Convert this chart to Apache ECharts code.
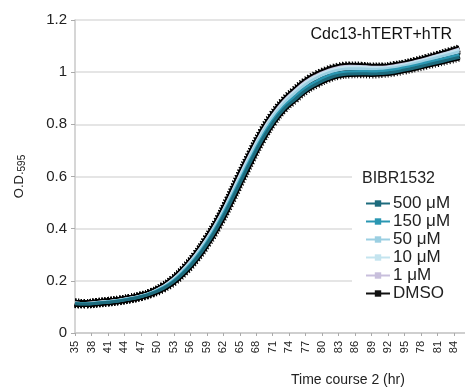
<!DOCTYPE html>
<html>
<head>
<meta charset="utf-8">
<script src="https://cdn.jsdelivr.net/npm/echarts@6/dist/echarts.min.js"></script>
<style>
  html, body { margin: 0; padding: 0; background: #fff; }
  #chart { width: 465px; height: 389px; }
</style>
</head>
<body>
<div id="chart"></div>
<script>
// Tick labels printed under the time axis (one every 3 hourly readings)
const tickLabels = ['35','38','41','44','47','50','53','56','59','62','65','68',
                    '71','74','77','80','83','86','89','92','95','78','81','84'];
// Hourly readings: 72 slots on the category axis
const slotCount = 72;
// Sampled slot indices (every 2 hours)
const sampleSlots = [0,2,4,6,8,10,12,14,16,18,20,22,24,26,28,30,32,34,
                     36,38,40,42,44,46,48,50,52,54,56,58,60,62,64,66,68,70];

// O.D.595 growth curves, one per BIBR1532 dose
const od500uM = [0.112,0.111,0.114,0.118,0.123,0.130,0.139,0.152,0.170,0.197,0.235,0.282,
                 0.340,0.408,0.487,0.573,0.658,0.738,0.805,0.858,0.895,0.930,0.955,0.975,
                 0.988,0.993,0.994,0.993,0.995,1.000,1.008,1.017,1.027,1.037,1.047,1.057];
const od150uM = [0.113,0.112,0.115,0.119,0.124,0.131,0.140,0.154,0.173,0.201,0.240,0.288,
                 0.347,0.416,0.496,0.582,0.667,0.747,0.814,0.866,0.905,0.940,0.965,0.985,
                 0.997,1.002,1.003,1.002,1.004,1.009,1.017,1.026,1.036,1.046,1.056,1.066];
const od50uM  = [0.114,0.113,0.116,0.120,0.125,0.132,0.141,0.155,0.176,0.205,0.246,0.296,
                 0.356,0.426,0.507,0.594,0.680,0.760,0.826,0.878,0.918,0.953,0.978,0.996,
                 1.008,1.013,1.013,1.011,1.012,1.017,1.024,1.034,1.045,1.056,1.067,1.078];
const od10uM  = [0.115,0.113,0.117,0.121,0.126,0.133,0.142,0.156,0.177,0.207,0.248,0.298,
                 0.359,0.429,0.511,0.600,0.686,0.766,0.832,0.885,0.925,0.960,0.985,1.003,
                 1.015,1.020,1.020,1.017,1.017,1.022,1.029,1.039,1.050,1.062,1.074,1.086];
const od1uM   = [0.115,0.113,0.117,0.121,0.126,0.133,0.142,0.156,0.178,0.208,0.250,0.300,
                 0.361,0.431,0.513,0.603,0.689,0.769,0.835,0.888,0.928,0.963,0.988,1.006,
                 1.018,1.023,1.022,1.019,1.019,1.024,1.031,1.041,1.052,1.064,1.076,1.089];
const odDMSO  = [0.115,0.113,0.117,0.121,0.126,0.133,0.142,0.156,0.178,0.208,0.250,0.300,
                 0.362,0.432,0.515,0.605,0.690,0.770,0.837,0.890,0.930,0.965,0.990,1.008,
                 1.020,1.024,1.023,1.020,1.020,1.025,1.032,1.042,1.053,1.065,1.077,1.090];

const doses = [
  { name: '500 μM', values: od500uM, color: '#1d6b7d' },
  { name: '150 μM', values: od150uM, color: '#2a97b2' },
  { name: '50 μM',  values: od50uM,  color: '#9bcfe2' },
  { name: '10 μM',  values: od10uM,  color: '#c4e4ef' },
  { name: '1 μM',   values: od1uM,   color: '#c8bfdc' },
  { name: 'DMSO',   values: odDMSO,  color: '#111111' }
];

const slots = Array.from({ length: slotCount }, (_, i) => String(i));
const pairs = vals => vals.map((v, k) => [sampleSlots[k], v]);

const FONT = '"Liberation Sans", Arial, sans-serif';

// Black error-bar halo behind every curve: a solid core plus a hatched fringe
const haloSeries = [];
doses.forEach(d => {
  haloSeries.push({
    type: 'line', data: pairs(d.values), smooth: true, symbol: 'none', silent: true, z: 1,
    lineStyle: { color: '#000', width: 6 }
  });
  haloSeries.push({
    type: 'line', data: pairs(d.values), smooth: true, symbol: 'none', silent: true, z: 1,
    lineStyle: { color: '#000', width: 9, type: [1, 2] }
  });
});

const curveSeries = doses.map((d, k) => ({
  name: d.name,
  type: 'line',
  data: pairs(d.values),
  smooth: true,
  symbol: 'rect',
  symbolSize: 5,
  showSymbol: false,
  z: 2 + (doses.length - k),
  color: d.color,
  lineStyle: { color: d.color, width: d.name === 'DMSO' ? 2.5 : 3 }
}));

const chart = echarts.init(document.getElementById('chart'));
chart.setOption({
  animation: false,
  backgroundColor: '#fff',
  textStyle: { fontFamily: FONT },
  title: {
    text: 'Cdc13-hTERT+hTR',
    right: 8, top: 22,
    textStyle: { fontFamily: FONT, fontSize: 16, fontWeight: 'normal', color: '#111' }
  },
  graphic: [
    {
      // white panel behind the legend block, hiding the gridlines there
      type: 'rect', left: 352, top: 164, z: 5,
      shape: { width: 113, height: 142 },
      style: { fill: '#fff' }
    },
    {
      type: 'text', left: 362, top: 171, z: 6,
      style: { text: 'BIBR1532', font: '16px ' + FONT, fill: '#222' }
    },
    {
      type: 'text', left: 291, top: 373,
      style: { text: 'Time course 2 (hr)', font: '14px ' + FONT, fill: '#222', textAlign: 'center' }
    }
  ],
  legend: {
    orient: 'vertical',
    left: 360, top: 190, z: 10,
    itemWidth: 24, itemHeight: 8, itemGap: 1,
    data: doses.map(d => d.name),
    textStyle: { fontFamily: FONT, fontSize: 17, color: '#222', padding: [0, 0, 0, -2] }
  },
  grid: { left: 75, right: -4, top: 20, bottom: 56, containLabel: false },
  xAxis: {
    type: 'category',
    data: slots,
    boundaryGap: false,
    axisLine: { lineStyle: { color: '#c8c8c8', width: 1.5 } },
    axisTick: { interval: 2, length: 3, lineStyle: { color: '#aaa' } },
    axisLabel: {
      interval: 2,
      rotate: 90,
      fontSize: 11,
      color: '#222',
      margin: 8,
      formatter: (v, idx) => tickLabels[idx / 3] || ''
    },
    splitLine: { show: false }
  },
  yAxis: {
    type: 'value',
    min: 0, max: 1.2, interval: 0.2,
    name: '{a|O.D.}{sub|595}',
    nameLocation: 'middle',
    nameGap: 48,
    nameTextStyle: {
      rich: {
        a: { fontFamily: FONT, fontSize: 13, color: '#222' },
        sub: { fontFamily: FONT, fontSize: 10, color: '#222', padding: [6, 0, 0, 0] }
      }
    },
    axisLine: { show: true, lineStyle: { color: '#c8c8c8', width: 1.5 } },
    axisTick: { show: true, length: 4, lineStyle: { color: '#aaa' } },
    axisLabel: {
      fontSize: 15, color: '#222', margin: 8,
      formatter: v => String(Math.round(v * 10) / 10)
    },
    splitLine: { lineStyle: { color: '#dcdcdc', width: 1.5 } }
  },
  series: haloSeries.concat(curveSeries)
});
</script>
</body>
</html>
